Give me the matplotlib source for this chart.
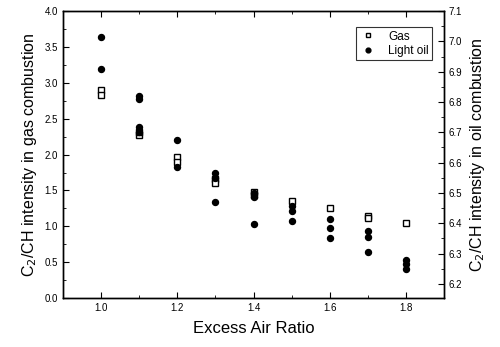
import numpy as np
import matplotlib.pyplot as plt
from matplotlib.ticker import MultipleLocator

plt.rcParams['font.family'] = ['Liberation Sans', 'DejaVu Sans']

# gas combustion (left axis)
gas_x = [1.0, 1.0, 1.1, 1.1, 1.2, 1.2, 1.3, 1.3, 1.4, 1.4, 1.5, 1.6, 1.7, 1.7, 1.8]
gas_y = [2.90, 2.83, 2.27, 2.31, 1.97, 1.90, 1.66, 1.60, 1.48, 1.43, 1.35, 1.25, 1.15, 1.11, 1.045]

# light oil combustion (right axis)
oil_x = [1.0, 1.0, 1.1, 1.1, 1.1, 1.1, 1.2, 1.2, 1.3, 1.3, 1.3, 1.4, 1.4, 1.4,
         1.5, 1.5, 1.5, 1.6, 1.6, 1.6, 1.7, 1.7, 1.7, 1.8, 1.8, 1.8]
oil_y = [7.013, 6.909, 6.82, 6.81, 6.717, 6.70, 6.674, 6.585, 6.565, 6.55, 6.47,
         6.50, 6.485, 6.397, 6.457, 6.44, 6.407, 6.413, 6.384, 6.35,
         6.375, 6.355, 6.305, 6.28, 6.265, 6.248]

fig = plt.figure(figsize=(5, 3.47), dpi=100)
ax = fig.add_axes([0.126, 0.141, 0.762, 0.827])
ax2 = ax.twinx()

h1, = ax.plot(gas_x, gas_y, 's', ms=4, mfc='white', mec='black', mew=1.0, label='Gas', zorder=3)
h2, = ax2.plot(oil_x, oil_y, 'o', ms=4.3, color='black', label='Light oil', zorder=2)

ax.set_xlim(0.9, 1.9)
ax.set_ylim(0, 4.0)
ax2.set_ylim(6.153, 7.1)

ax.yaxis.set_major_locator(MultipleLocator(0.5))
ax.yaxis.set_minor_locator(MultipleLocator(0.25))
ax2.yaxis.set_major_locator(MultipleLocator(0.1))
ax2.yaxis.set_minor_locator(MultipleLocator(0.05))
ax.set_xticks([1.0, 1.2, 1.4, 1.6, 1.8])
ax.set_xticks([1.1, 1.3, 1.5, 1.7], minor=True)

ax.tick_params(axis='x', which='both', direction='in', top=True, labelsize=7)
ax.tick_params(axis='y', which='both', direction='in', labelsize=7)
ax2.tick_params(axis='y', which='both', direction='in', labelsize=7)
for a in (ax, ax2):
    a.tick_params(which='major', length=4, width=0.8)
    a.tick_params(which='minor', length=2, width=0.6)
    for s in a.spines.values():
        s.set_linewidth(1.0)

ax.set_yticklabels(['%.1f' % v for v in ax.get_yticks()])

ax.set_xlabel('Excess Air Ratio', fontsize=12, labelpad=6)
ax.set_ylabel('C$_2$/CH intensity in gas combustion', fontsize=11.5, labelpad=4)
ax2.set_ylabel('C$_2$/CH intensity in oil combustion', fontsize=11.5, labelpad=4)

leg = ax.legend(handles=[h1, h2], loc='upper right', bbox_to_anchor=(0.985, 0.965),
                fontsize=8.5, frameon=True, fancybox=False, edgecolor='black',
                handlelength=1.4, handletextpad=1.0, borderpad=0.3, labelspacing=0.2,
                markerscale=0.8)
leg.get_frame().set_linewidth(0.8)

fig.savefig('out.png', dpi=100)
